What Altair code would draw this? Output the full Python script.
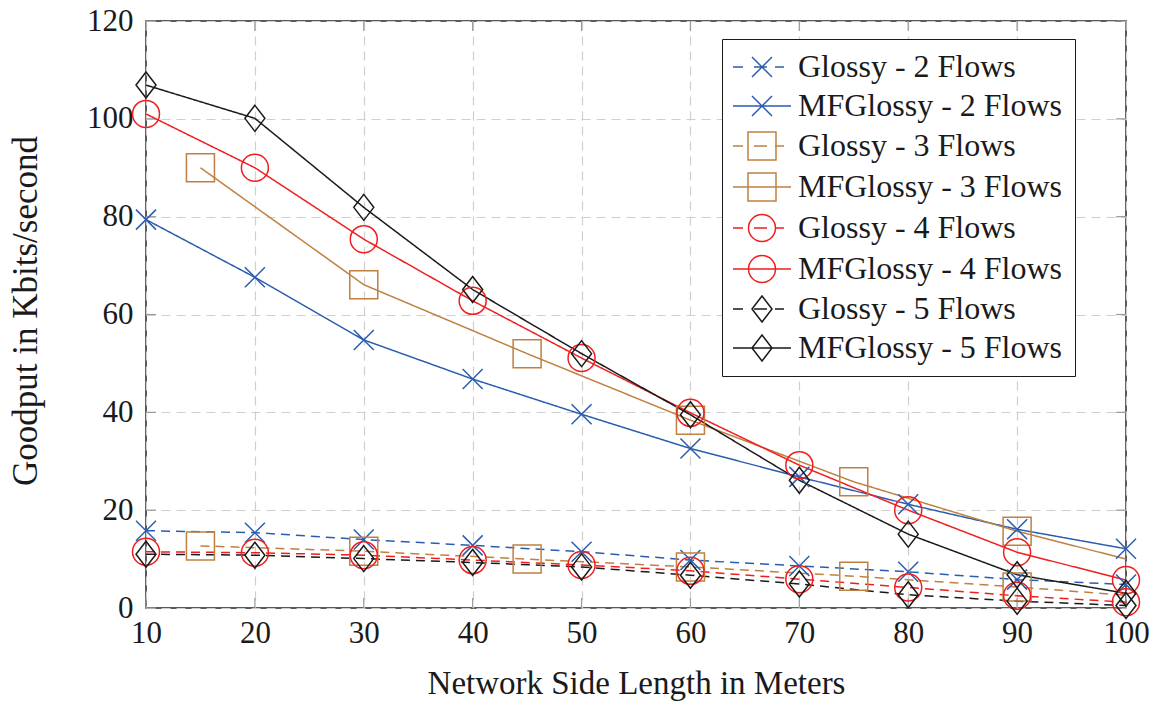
import altair as alt
import pandas as pd

# ---- data -------------------------------------------------------------
x_tens = [10, 20, 30, 40, 50, 60, 70, 80, 90, 100]
x_fifteens = [15, 30, 45, 60, 75, 90, 100]
x_fifteens_marked = [15, 30, 45, 60, 75, 90]

glossy_2 = [15.8, 15.4, 14.0, 12.8, 11.5, 9.8, 8.6, 7.4, 5.8, 4.8]
mfglossy_2 = [79.4, 67.6, 54.8, 46.8, 39.6, 32.6, 26.8, 21.2, 16.1, 12.1]
glossy_3 = [12.7, 11.6, 10.0, 8.4, 6.5, 4.3, 2.6]
mfglossy_3 = [90.0, 66.1, 52.0, 38.4, 25.8, 15.7, 10.0]
glossy_4 = [11.5, 11.3, 10.8, 9.8, 8.8, 7.6, 5.9, 4.2, 2.5, 1.2]
mfglossy_4 = [101.0, 90.0, 75.4, 62.8, 51.1, 39.9, 29.2, 20.0, 11.4, 5.7]
glossy_5 = [11.0, 10.8, 10.1, 9.3, 8.4, 6.7, 4.9, 2.7, 1.4, 0.5]
mfglossy_5 = [106.9, 100.1, 81.9, 65.1, 52.0, 39.5, 26.1, 15.1, 6.8, 3.0]

series_names = [
    "Glossy - 2 Flows", "MFGlossy - 2 Flows",
    "Glossy - 3 Flows", "MFGlossy - 3 Flows",
    "Glossy - 4 Flows", "MFGlossy - 4 Flows",
    "Glossy - 5 Flows", "MFGlossy - 5 Flows",
]
series_x = [x_tens, x_tens, x_fifteens, x_fifteens, x_tens, x_tens, x_tens, x_tens]
series_marks = [x_tens, x_tens, x_fifteens_marked, x_fifteens_marked,
                x_tens, x_tens, x_tens, x_tens]
series_y = [glossy_2, mfglossy_2, glossy_3, mfglossy_3,
            glossy_4, mfglossy_4, glossy_5, mfglossy_5]

x_ticks = [10, 20, 30, 40, 50, 60, 70, 80, 90, 100]
y_ticks = [0, 20, 40, 60, 80, 100, 120]

rows = []
for name, xs, ys, marked in zip(series_names, series_x, series_y, series_marks):
    for xv, yv in zip(xs, ys):
        rows.append({"series": name, "length": xv, "goodput": yv,
                     "marked": xv in marked})
df = pd.DataFrame(rows)
xtick_df = pd.DataFrame({"tick": x_ticks})
ytick_df = pd.DataFrame({"tick": y_ticks})

# ---- styles -----------------------------------------------------------
W, H = 980, 587
FONT = "Liberation Serif"
BLUE, BROWN, RED, BLACK = "#2a5db0", "#bf8040", "#f01e1e", "#1a1a1a"
colors = [BLUE, BLUE, BROWN, BROWN, RED, RED, BLACK, BLACK]
DASH = [9, 6]
dashes = [DASH, [1, 0]] * 4

# marker outlines in pixel units (symbol size 4 -> unit scale)
CROSS = "M-10,-10L10,10M-10,10L10,-10"
SQUARE = "M-14,-14L14,-14L14,14L-14,14Z"
CIRCLE = "M-13.5,0A13.5,13.5,0,1,0,13.5,0A13.5,13.5,0,1,0,-13.5,0Z"
DIAMOND = "M0,-13L10,0L0,13L-10,0Z"
markers = [CROSS, CROSS, SQUARE, SQUARE, CIRCLE, CIRCLE, DIAMOND, DIAMOND]

# legend glyphs: line sample with the marker in its middle
SOLID_SAMPLE = "M0,0L58,0"
DASHED_SAMPLE = "M0,0L10,0M21,0L34,0M42,0L51,0"
CROSS_L = "M19,-10L39,10M19,10L39,-10"
SQUARE_L = "M15,-14L43,-14L43,14L15,14Z"
CIRCLE_L = "M15.5,0A13.5,13.5,0,1,0,42.5,0A13.5,13.5,0,1,0,15.5,0Z"
DIAMOND_L = "M29,-13L39,0L29,13L19,0Z"
legend_glyphs = [
    DASHED_SAMPLE + CROSS_L, SOLID_SAMPLE + CROSS_L,
    DASHED_SAMPLE + SQUARE_L, SOLID_SAMPLE + SQUARE_L,
    DASHED_SAMPLE + CIRCLE_L, SOLID_SAMPLE + CIRCLE_L,
    DASHED_SAMPLE + DIAMOND_L, SOLID_SAMPLE + DIAMOND_L,
]

x_scale = alt.Scale(domain=[10, 100], nice=False, zero=False)
y_scale = alt.Scale(domain=[0, 120], nice=False, zero=False)
color_scale = alt.Scale(domain=series_names, range=colors)

x_enc = alt.X(
    "length:Q", scale=x_scale,
    axis=alt.Axis(values=x_ticks, title="Network Side Length in Meters",
                  titleY=85, titleBaseline="alphabetic", labelPadding=10,
                  labelBaseline="top", labelFlush=False, labelOverlap=False),
)
y_enc = alt.Y(
    "goodput:Q", scale=y_scale,
    axis=alt.Axis(values=y_ticks, title="Goodput in Kbits/second",
                  titleX=-121, titleY=H / 2 - 4, titleAngle=270,
                  titleBaseline="middle", titleAlign="center", titleFontSize=35,
                  labelPadding=13, labelFlush=False, labelOverlap=False),
)

lines = alt.Chart(df).mark_line(strokeWidth=1.5).encode(
    x=x_enc,
    y=y_enc,
    color=alt.Color("series:N", scale=color_scale, legend=None),
    strokeDash=alt.StrokeDash("series:N",
                              scale=alt.Scale(domain=series_names, range=dashes),
                              legend=None),
)

points = alt.Chart(df).transform_filter("datum.marked").mark_point(
    filled=False, size=4, strokeWidth=1.5, opacity=1
).encode(
    x=alt.X("length:Q", scale=x_scale),
    y=alt.Y("goodput:Q", scale=y_scale),
    color=alt.Color("series:N", scale=color_scale, legend=None),
    shape=alt.Shape("series:N",
                    scale=alt.Scale(domain=series_names, range=markers),
                    legend=None),
)

legend_spec = alt.Legend(
    orient="none", legendX=576, legendY=18, title=None,
    strokeColor="#1a1a1a", fillColor="white", padding=12,
    symbolSize=4, symbolStrokeWidth=1.5, symbolOffset=-17, labelOffset=49,
    labelFont=FONT, labelFontSize=32, labelColor="#1a1a1a",
    labelLimit=0, rowPadding=7,
)
legend_layer = alt.Chart(df).transform_filter("false").mark_point(
    filled=False, size=4, strokeWidth=1.5, opacity=1
).encode(
    x=alt.X("length:Q", scale=x_scale),
    y=alt.Y("goodput:Q", scale=y_scale),
    color=alt.Color("series:N", scale=color_scale, legend=legend_spec),
    shape=alt.Shape("series:N",
                    scale=alt.Scale(domain=series_names, range=legend_glyphs),
                    legend=legend_spec),
)

# inward tick marks on all four sides of the frame
TICK = 10
tick_style = dict(color="#9a9a9a", strokeWidth=1.2)
ticks_bottom = alt.Chart(xtick_df).mark_rule(**tick_style).encode(
    x=alt.X("tick:Q", scale=x_scale), y=alt.value(H), y2=alt.value(H - TICK))
ticks_top = alt.Chart(xtick_df).mark_rule(**tick_style).encode(
    x=alt.X("tick:Q", scale=x_scale), y=alt.value(0), y2=alt.value(TICK))
ticks_left = alt.Chart(ytick_df).mark_rule(**tick_style).encode(
    y=alt.Y("tick:Q", scale=y_scale), x=alt.value(0), x2=alt.value(TICK))
ticks_right = alt.Chart(ytick_df).mark_rule(**tick_style).encode(
    y=alt.Y("tick:Q", scale=y_scale), x=alt.value(W), x2=alt.value(W - TICK))

chart = alt.layer(
    ticks_bottom, ticks_top, ticks_left, ticks_right,
    lines, points, legend_layer,
).resolve_scale(
    color="independent", shape="independent", strokeDash="independent"
).properties(
    width=W, height=H,
    autosize=alt.AutoSizeParams(type="none"),
    padding={"left": 146, "top": 21, "right": 30, "bottom": 94},
    background="white",
).configure_view(
    stroke="#262626", strokeWidth=1.5,
).configure_axis(
    labelFont=FONT, labelFontSize=31, labelColor="#1a1a1a",
    titleFont=FONT, titleFontSize=33, titleColor="#1a1a1a", titleFontWeight="normal",
    grid=True, gridColor="#cfcfcf", gridDash=DASH, gridWidth=1.2,
    domain=False, ticks=False, tickSize=0,
)

chart.save("out.html", embed_options={"renderer": "svg", "actions": False})
